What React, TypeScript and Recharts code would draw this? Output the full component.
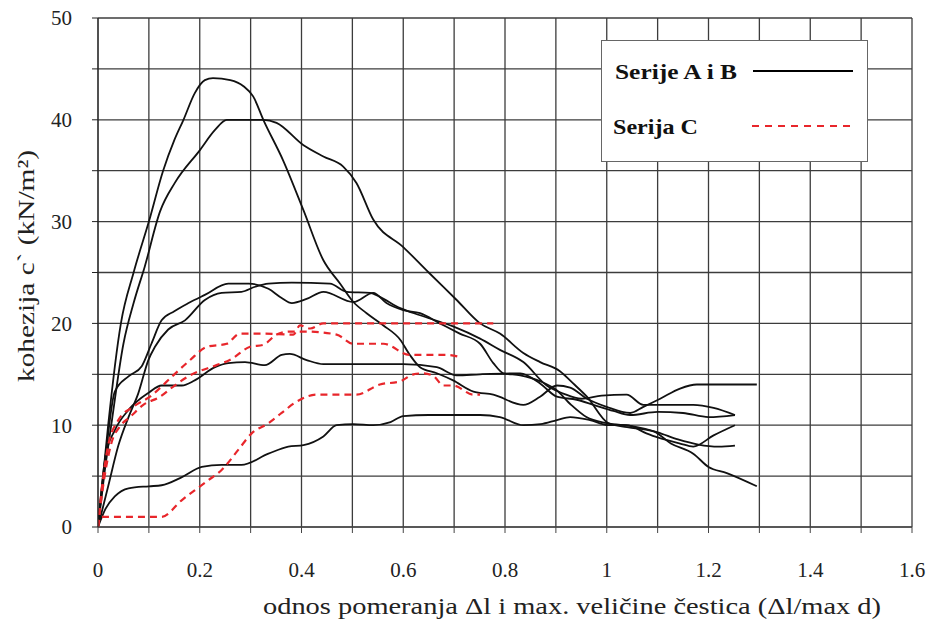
import React from 'react'
import { LineChart, Line, XAxis, YAxis, CartesianGrid, Legend } from 'recharts'

// tick positions (labels only on every second one)
const xTicks = [0, 0.1, 0.2, 0.3, 0.4, 0.5, 0.6, 0.7, 0.8, 0.9, 1, 1.1, 1.2, 1.3, 1.4, 1.5, 1.6]
const yTicks = [0, 5, 10, 15, 20, 25, 30, 35, 40, 45, 50]

// Serije A i B  [odnos Δl/max d, kohezija c']
const serijaA1: [number, number][] = [
  [0, 0], [0.01, 5], [0.02, 10], [0.045, 20], [0.07, 25], [0.1, 30], [0.128, 35], [0.15, 38],
  [0.168, 40], [0.19, 42.6], [0.21, 43.9], [0.226, 44.1], [0.26, 43.9], [0.286, 43.3], [0.305, 42.3],
  [0.325, 40], [0.364, 36], [0.404, 31.1], [0.443, 26.2], [0.476, 23.9], [0.502, 22.1], [0.528, 21],
  [0.561, 19.8], [0.594, 18.4], [0.613, 16.9], [0.633, 15.7], [0.666, 15.1], [0.698, 14.4],
  [0.738, 13.3], [0.777, 13], [0.836, 12], [0.869, 12.8], [0.902, 13.9], [0.928, 13.7], [0.961, 12.6],
  [1.0, 11.8], [1.046, 11.2], [1.072, 11.8], [1.105, 12.6], [1.144, 13.6], [1.177, 14], [1.22, 14], [1.295, 14],
]
const serijaA2: [number, number][] = [
  [0, 0], [0.012, 5], [0.026, 10], [0.05, 18], [0.07, 22], [0.092, 25.6], [0.122, 31], [0.151, 33.8],
  [0.2, 37], [0.23, 39], [0.253, 40], [0.325, 40], [0.351, 39.7], [0.404, 37.5], [0.443, 36.4],
  [0.482, 35.4], [0.508, 33.8], [0.541, 30.2], [0.6, 27.5], [0.65, 25], [0.705, 22.3], [0.751, 20],
  [0.79, 19], [0.836, 17.1], [0.869, 16.2], [0.908, 15.3], [0.934, 14.1], [0.961, 12.8], [1.003, 10.2],
  [1.04, 9.8], [1.092, 9.4], [1.126, 8.2], [1.17, 7.2], [1.2, 5.9], [1.236, 5.3], [1.295, 4],
]
const serijaB1: [number, number][] = [
  [0, 0], [0.02, 4], [0.04, 8], [0.06, 10.8], [0.079, 13.1], [0.099, 16.4], [0.112, 17.7], [0.138, 19.4],
  [0.171, 20.3], [0.21, 22.3], [0.243, 23], [0.282, 23.1], [0.309, 23.6], [0.335, 23.9], [0.381, 24],
  [0.456, 23.9], [0.489, 23.1], [0.535, 23], [0.554, 22.6], [0.594, 21.5], [0.633, 20.8], [0.698, 19.7],
  [0.751, 18.5], [0.79, 17.4], [0.836, 16.2], [0.882, 13.9], [0.915, 13.1], [0.95, 12.6], [0.99, 12.9],
  [1.039, 13], [1.072, 12], [1.17, 12], [1.21, 11.7], [1.252, 11],
]
const serijaB2: [number, number][] = [
  [0, 0], [0.015, 7], [0.033, 13.3], [0.06, 14.8], [0.086, 15.8], [0.105, 18], [0.125, 20.3], [0.15, 21.2],
  [0.178, 22], [0.21, 22.8], [0.256, 23.9], [0.296, 23.9], [0.335, 23.4], [0.361, 22.5], [0.381, 22],
  [0.41, 22.4], [0.443, 23.1], [0.502, 22.1], [0.541, 23], [0.567, 22], [0.6, 21.3], [0.633, 21],
  [0.672, 20], [0.711, 19], [0.751, 18], [0.777, 16.1], [0.797, 15.1], [0.83, 14.9], [0.87, 14.3],
  [0.9, 13.5], [0.93, 12], [0.96, 10.8], [1.0, 10.2], [1.05, 9.9], [1.1, 9.3], [1.14, 8.6], [1.18, 8.1],
  [1.22, 7.9], [1.252, 8],
]
const serijaB3: [number, number][] = [
  [0, 0], [0.015, 7], [0.033, 9.5], [0.06, 11.5], [0.1, 13.2], [0.125, 13.9], [0.165, 13.9], [0.19, 14.4],
  [0.23, 15.7], [0.256, 16.1], [0.289, 16.2], [0.328, 15.9], [0.361, 16.9], [0.377, 17], [0.41, 16.4],
  [0.443, 16], [0.6, 16], [0.666, 15.7], [0.705, 14.9], [0.751, 15], [0.83, 15.1], [0.869, 14.1],
  [0.902, 12.8], [0.941, 12.5], [0.974, 12], [1.013, 11.4], [1.046, 11], [1.1, 11.3], [1.15, 11.2],
  [1.2, 10.8], [1.252, 11],
]
const serijaB4: [number, number][] = [
  [0, 0], [0.015, 1.8], [0.033, 3], [0.06, 3.8], [0.1, 4], [0.125, 4.1], [0.165, 4.9], [0.204, 5.9],
  [0.243, 6.1], [0.282, 6.1], [0.335, 7.2], [0.374, 7.9], [0.404, 8.05], [0.443, 8.9], [0.469, 10],
  [0.502, 10.1], [0.541, 10], [0.575, 10.3], [0.6, 10.9], [0.65, 11], [0.7, 11], [0.751, 11],
  [0.79, 10.8], [0.836, 10], [0.87, 10.1], [0.902, 10.5], [0.928, 10.8], [0.967, 10.5], [1.003, 10],
  [1.039, 10], [1.078, 9.2], [1.1, 8.8], [1.144, 8.2], [1.17, 7.9], [1.21, 9], [1.252, 10],
]

// Serija C
const serijaC1: [number, number][] = [
  [0, 0], [0.008, 4], [0.02, 8], [0.04, 10.5], [0.069, 11.8], [0.102, 12.8], [0.148, 14.9], [0.181, 16.4],
  [0.214, 17.7], [0.253, 18], [0.279, 19], [0.325, 19], [0.384, 18.9], [0.397, 19.8], [0.417, 19.5],
  [0.443, 20], [0.594, 20], [0.777, 20],
]
const serijaC2: [number, number][] = [
  [0, 0], [0.01, 4], [0.025, 8], [0.045, 10], [0.063, 10.8], [0.089, 12], [0.122, 12.8], [0.148, 13.8],
  [0.181, 14.9], [0.233, 15.9], [0.259, 16.4], [0.299, 17.7], [0.325, 17.9], [0.351, 18.9], [0.377, 19.2],
  [0.41, 19.2], [0.469, 18.9], [0.502, 18], [0.561, 18], [0.613, 16.9], [0.685, 16.9], [0.711, 16.7],
]
const serijaC3: [number, number][] = [
  [0, 0], [0.005, 1], [0.06, 1], [0.125, 1], [0.165, 2.65], [0.19, 3.6], [0.217, 4.6], [0.243, 5.6],
  [0.276, 7.6], [0.302, 9.2], [0.335, 10.2], [0.361, 11.2], [0.387, 12.2], [0.43, 13], [0.508, 13],
  [0.554, 14], [0.594, 14.3], [0.62, 15], [0.64, 15.1], [0.66, 14.8], [0.679, 13.9], [0.698, 13.9],
  [0.738, 13], [0.751, 13],
]

const blackSeries = [serijaA1, serijaA2, serijaB1, serijaB2, serijaB3, serijaB4]
const redSeries = [serijaC1, serijaC2, serijaC3]

const FONT = 'Liberation Serif, Tinos, Times New Roman, DejaVu Serif, Noto Serif, serif'
const RED = '#e8262b'

const toPoints = (pts: [number, number][]) => pts.map(([x, y]) => ({ x, y }))

const fmtX = (v: number) => (Math.round(v * 10) % 2 === 0 ? String(Number(v.toFixed(1))) : '')
const fmtY = (v: number) => (v % 10 === 0 ? String(v) : '')

const LegendBox = () => (
  <div
    style={{
      width: 267,
      height: 122,
      boxSizing: 'border-box',
      border: '1.5px solid #666',
      background: '#fff',
      position: 'relative',
    }}
  >
    <svg width={267} height={122} style={{ position: 'absolute', left: -1.5, top: -1.5 }}>
      <g fontFamily={FONT} fontWeight="bold" fontSize={21} fill="#111">
        <text x={14} y={39} textLength={122} lengthAdjust="spacingAndGlyphs">Serije A i B</text>
        <text x={12} y={94} textLength={85} lengthAdjust="spacingAndGlyphs">Serija C</text>
      </g>
      <line x1={152} x2={252} y1={31} y2={31} stroke="#000" strokeWidth={1.8} />
      <line x1={151} x2={252} y1={86} y2={86} stroke={RED} strokeWidth={2} strokeDasharray="7 6" />
    </svg>
  </div>
)

const XTitle = ({ viewBox }: any) => (
  <text
    x={viewBox.x + viewBox.width / 2 + 67}
    y={viewBox.y + 87}
    textAnchor="middle"
    fontFamily={FONT}
    fontSize={23}
    fill="#222"
    textLength={618}
    lengthAdjust="spacingAndGlyphs"
  >
    odnos pomeranja Δl i max. veličine čestica (Δl/max d)
  </text>
)

const YTitle = ({ viewBox }: any) => {
  const cx = 26
  const cy = viewBox.y + 248
  return (
    <text
      x={cx}
      y={cy}
      textAnchor="middle"
      fontFamily={FONT}
      fontSize={23}
      fill="#222"
      transform={`rotate(-90 ${cx} ${cy})`}
      dominantBaseline="central"
      textLength={232}
      lengthAdjust="spacingAndGlyphs"
    >
      kohezija  c` (kN/m²)
    </text>
  )
}

export default function App() {
  return (
    <div style={{ position: 'absolute', left: 0, top: 0, width: 931, height: 621, background: '#fff' }}>
      <LineChart width={931} height={621} margin={{ top: 18, right: 19, left: 0, bottom: 0 }}>
        <CartesianGrid stroke="#3c3c3c" strokeWidth={1.3} />
        <XAxis
          type="number"
          dataKey="x"
          domain={[0, 1.6]}
          ticks={xTicks}
          interval={0}
          tickFormatter={fmtX}
          allowDataOverflow
          height={94}
          tickSize={6}
          tickMargin={29}
          stroke="#444"
          tick={{ fill: '#222', fontSize: 21, fontFamily: FONT }}
          label={<XTitle />}
        />
        <YAxis
          type="number"
          dataKey="y"
          domain={[0, 50]}
          ticks={yTicks}
          interval={0}
          tickFormatter={fmtY}
          width={98}
          tickSize={6}
          tickMargin={20}
          stroke="#222"
          tick={{ fill: '#222', fontSize: 21, fontFamily: FONT }}
          label={<YTitle />}
        />
        <Legend
          layout="horizontal"
          align="center"
          verticalAlign="middle"
          wrapperStyle={{ left: 601, top: 40, width: 267, height: 122 }}
          content={() => <LegendBox />}
        />
        {blackSeries.map((s, i) => (
          <Line
            key={'ab' + i}
            data={toPoints(s)}
            dataKey="y"
            type="monotone"
            stroke="#111"
            strokeWidth={1.8}
            dot={false}
            activeDot={false}
            legendType="none"
            isAnimationActive={false}
          />
        ))}
        {redSeries.map((s, i) => (
          <Line
            key={'c' + i}
            data={toPoints(s)}
            dataKey="y"
            type="monotone"
            stroke={RED}
            strokeWidth={2.2}
            strokeDasharray="7 5"
            dot={false}
            activeDot={false}
            legendType="none"
            isAnimationActive={false}
          />
        ))}
      </LineChart>
    </div>
  )
}
